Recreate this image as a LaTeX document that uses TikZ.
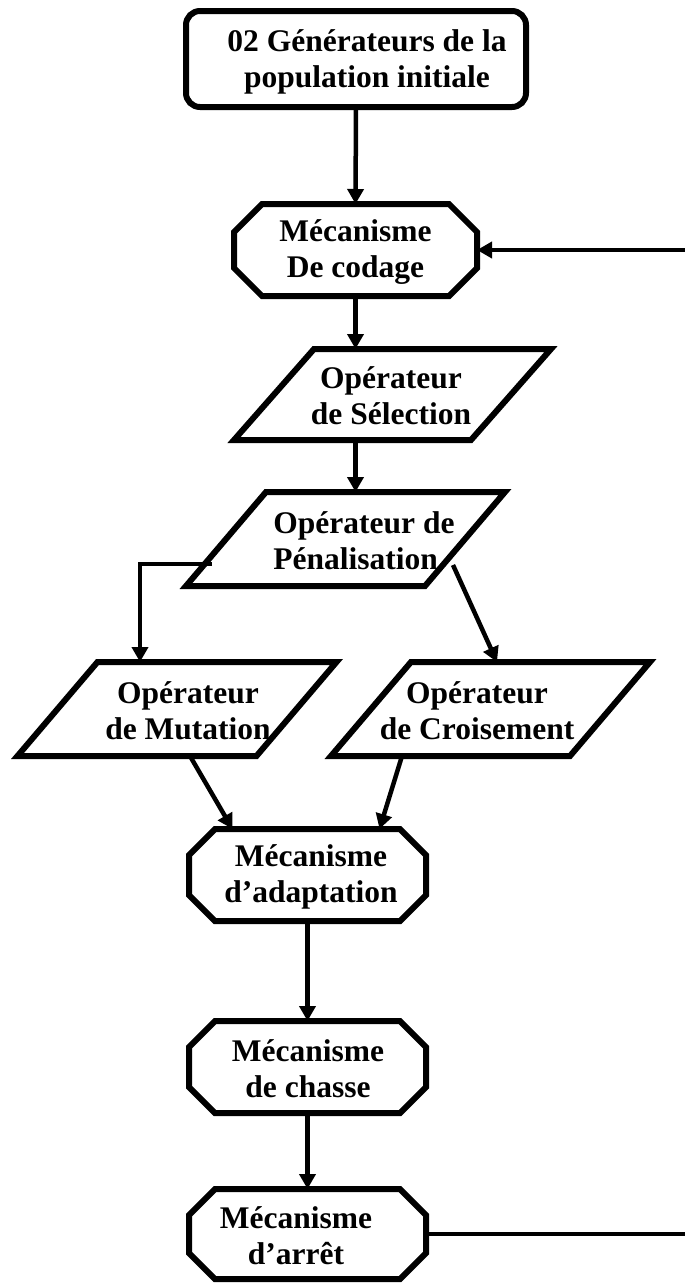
\documentclass[tikz,border=0pt]{standalone}
\usepackage{fontspec}
\setmainfont{Liberation Serif}
\usetikzlibrary{arrows.meta,calc}

% octagon (chamfered box) around a helper node: #1 node, #2 chamfer
\newcommand{\drawoct}[2]{%
  \draw[border] ([xshift=#2]#1.north west) -- ([xshift=-#2]#1.north east)
    -- ([yshift=-#2]#1.north east) -- ([yshift=#2]#1.south east)
    -- ([xshift=-#2]#1.south east) -- ([xshift=#2]#1.south west)
    -- ([yshift=#2]#1.south west) -- ([yshift=-#2]#1.north west) -- cycle;}
% slanted data box around a helper node: #1 node, #2 half slant
\newcommand{\drawpar}[2]{%
  \draw[border] ([xshift=-#2]#1.south west) -- ([xshift=#2]#1.north west)
    -- ([xshift=#2]#1.north east) -- ([xshift=-#2]#1.south east) -- cycle;}

\begin{document}
\begin{tikzpicture}[x=1pt,y=-1pt,
  box/.style={rectangle, inner sep=0pt, outer sep=0pt},
  border/.style={line width=6pt, line join=miter},
  link/.style={line width=4.5pt, -{Triangle[length=15pt,width=16pt]}},
  plain/.style={line width=4.5pt},
  lbl/.style={font=\fontsize{31.5}{36}\selectfont\bfseries, align=center, inner sep=0pt}]
\useasboundingbox (0,0) rectangle (685,1283);
\coordinate (rightedge) at (685,0);

% shape frames
\node[box, minimum width=340pt, minimum height=96pt] (gen) at (356,59) {};
\node[box, minimum width=243pt, minimum height=92pt] (cod) at (355.5,250) {};
\node[box, minimum width=237pt, minimum height=91pt] (sel) at (392.5,394.5) {};
\node[box, minimum width=239pt, minimum height=94pt] (pen) at (345.5,539) {};
\node[box, minimum width=239pt, minimum height=94pt] (mut) at (177,709) {};
\node[box, minimum width=239pt, minimum height=94pt] (cro) at (490.5,709) {};
\node[box, minimum width=237pt, minimum height=92pt] (ada) at (307.5,875) {};
\node[box, minimum width=237pt, minimum height=92pt] (cha) at (307.5,1067) {};
\node[box, minimum width=237pt, minimum height=90pt] (arr) at (307.5,1234) {};

\draw[border, rounded corners=14pt] (gen.north west) rectangle (gen.south east);
\drawoct{cod}{28pt}
\drawpar{sel}{40pt}
\drawpar{pen}{40pt}
\drawpar{mut}{40pt}
\drawpar{cro}{40pt}
\drawoct{ada}{26pt}
\drawoct{cha}{26pt}
\drawoct{arr}{26pt}

% texts
\node[lbl] (genT) at (367,62) {02 Générateurs de la\\population initiale};
\node[lbl] (codT) at (355.5,252) {Mécanisme\\De codage};
\node[lbl] (selT) at (391,396) {Opérateur\\de Sélection};
\node[lbl, align=left] (penT) at (364,541) {Opérateur de\\Pénalisation};
\node[lbl] (mutT) at (188,711) {Opérateur\\de Mutation};
\node[lbl] (croT) at (477,711) {Opérateur\\de Croisement};
\node[lbl] (adaT) at (311,877) {Mécanisme\\d’adaptation};
\node[lbl] (chaT) at (308,1069) {Mécanisme\\de chasse};
\node[lbl] (arrT) at (296,1236) {Mécanisme\\d’arrêt};

% connectors
\draw[link] (gen.south) -- (cod.north);
\draw[link] (rightedge |- cod.east) -- (cod.east);
\draw[link] (cod.south) -- (cod.south |- sel.north);
\draw[link] (cod.south |- sel.south) -- (cod.south |- pen.north);
\draw[link] ($(pen.west)+(-14,25)$) -| ($(mut.north)+(-37,0)$);
\draw[link] ($(pen.east)+(-12,26)$) -- ($(cro.north)+(6.5,0)$);
\draw[link] ($(mut.south)+(13,0)$) -- ($(ada.north)+(-75,0)$);
\draw[link] ($(cro.south)+(-88.5,0)$) -- ($(ada.north)+(72,0)$);
\draw[link] (ada.south) -- (cha.north);
\draw[link] (cha.south) -- (arr.north);
\draw[plain] (arr.east) -- (arr.east -| rightedge);
\end{tikzpicture}
\end{document}
